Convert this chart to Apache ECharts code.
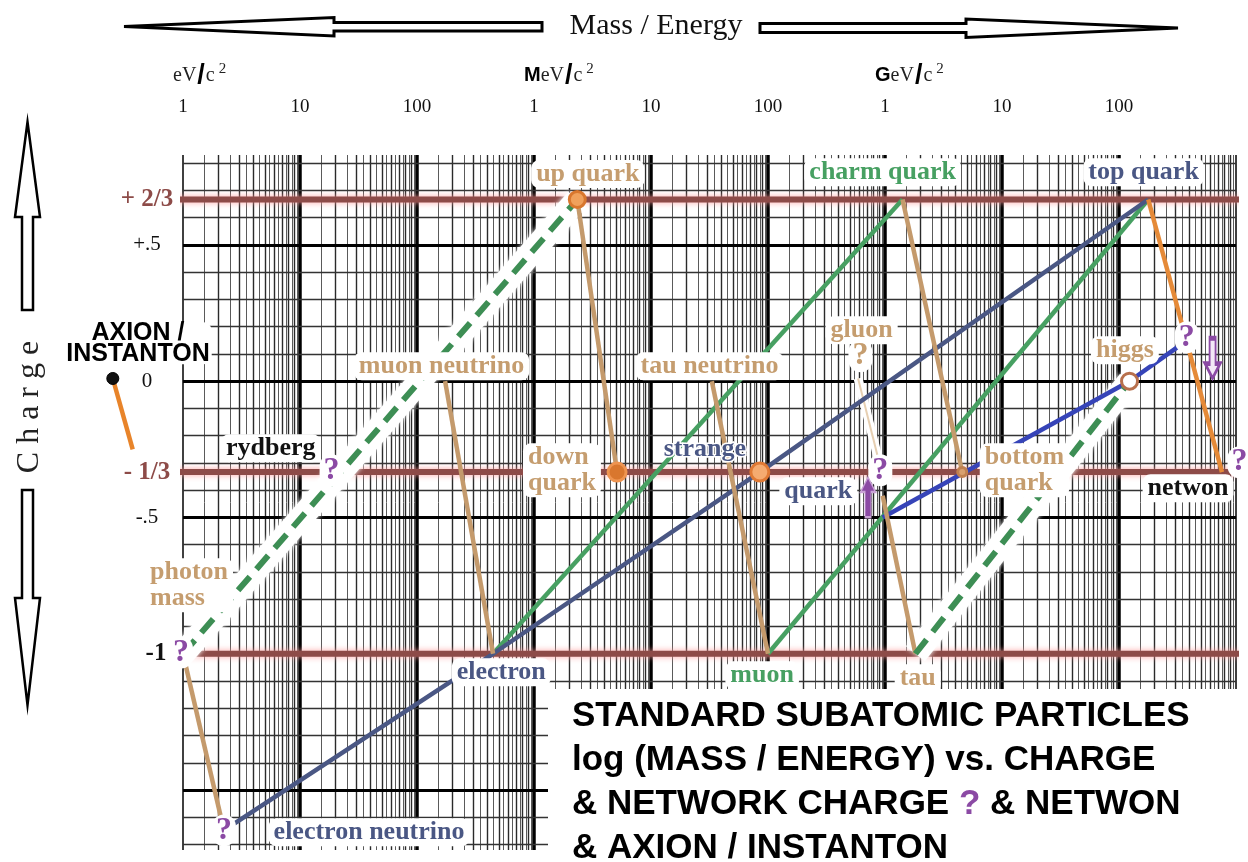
<!DOCTYPE html>
<html><head><meta charset="utf-8">
<script src="https://cdn.jsdelivr.net/npm/echarts@6/dist/echarts.min.js"></script>
<style>html,body{margin:0;padding:0;background:#fff}#c{width:1248px;height:862px}</style>
</head><body><div id="c"></div>
<script>
// x = decade index of mass/energy (0 = 1 eV/c², 3 = 1 MeV/c², 6 = 1 GeV/c² ...), y = charge
const massTickLabels = ['1','10','100','1','10','100','1','10','100',''];
const unitPrefixes = ['', 'M', 'G', ''];
const chargeTickValues = [2/3, 0.5, 0, -1/3, -0.5, -1];
const chargeTickLabels = ['+ 2/3', '+.5', '0', '- 1/3', '-.5', '-1'];
const chargeTickStyles = ['frac', 'plain', 'plain', 'frac', 'plain', 'one'];
const chargeLevels = [2/3, -1/3, -1];

// particle points [decade index, charge]
const ptPhoton = [0.00, -1];
const ptElectronNeutrino = [0.35, -1.648];
const ptElectron = [2.65, -1];
const ptMuonNeutrino = [2.24, 0];
const ptUpQuark = [3.37, 2/3];
const ptDownQuark = [3.71, -1/3];
const ptTauNeutrino = [4.52, 0];
const ptMuon = [5.00, -1];
const ptStrange = [4.93, -1/3];
const ptGluon = [5.77, 0.01];
const ptGluonMid = [5.94, -0.28];
const ptGluonLow = [5.98, -0.42];
const ptQuarkStart = [5.98, -0.50];
const ptCharm = [6.15, 2/3];
const ptTau = [6.26, -1];
const ptBottom = [6.66, -1/3];
const ptHiggs = [8.09, 0];
const ptTop = [8.25, 2/3];
const ptNetwon = [8.88, -1/3];
const ptNetworkCharge = [8.50, 0.125];
const ptAxion = [-0.60, 0.01];
const ptAxionEnd = [-0.43, -0.25];

const tan = '#c49a6c', tanText = '#c59d6f', green = '#47a062', slate = '#4a5784',
      blue = '#3644b8', purple = '#8b4aa4', orange = '#e58a38', brick = '#8d4b48';

const tanLines = [[ptPhoton, ptElectronNeutrino], [ptMuonNeutrino, ptElectron], [ptUpQuark, ptDownQuark],
                  [ptTauNeutrino, ptMuon], [ptCharm, ptBottom], [ptGluonLow, ptTau]];
const orangeLines = [[ptTop, ptNetwon]];
const greenLines = [[ptElectron, ptCharm], [ptMuon, ptTop]];
const greenDashedLines = [[ptPhoton, ptUpQuark], [ptTau, ptHiggs]];
const slateLine = [ptElectronNeutrino, ptElectron, ptStrange, ptTop];
const blueLines = [[ptQuarkStart, ptHiggs], [ptHiggs, ptNetworkCharge]];
const gluonThin = [ptGluon, ptGluonMid];

const labelItems = [
  ['up quark', 3.46, 0.76, tanText, 'center'],
  ['charm quark', 5.98, 0.767, green, 'center'],
  ['top quark', 8.21, 0.767, slate, 'center'],
  ['muon neutrino', 2.21, 0.055, tanText, 'center'],
  ['tau neutrino', 4.50, 0.055, tanText, 'center'],
  ['gluon', 5.80, 0.187, tanText, 'center'],
  ['higgs', 8.05, 0.114, tanText, 'center'],
  ['down\nquark', 2.906, -0.327, tanText, 'left'],
  ['quark', 5.43, -0.404, slate, 'center'],
  ['bottom\nquark', 6.81, -0.327, tanText, 'left'],
  ['netwon', 8.59, -0.393, '#111', 'center'],
  ['rydberg', 0.75, -0.246, '#111', 'center'],
  ['photon\nmass', -0.325, -0.749, tanText, 'left'],
  ['electron', 2.72, -1.068, slate, 'center'],
  ['electron neutrino', 1.59, -1.655, slate, 'center'],
  ['muon', 4.95, -1.079, green, 'center'],
  ['tau', 6.28, -1.09, tanText, 'center']
];
const plainLabelItems = [['strange', 4.46, -0.25, slate]];
const axionLabel = ['AXION /\nINSTANTON', -0.385, 0.139];
const questionMarks = [
  [-0.017, -0.995, purple], [1.27, -0.327, purple], [0.35, -1.648, purple],
  [5.79, 0.092, tanText], [5.96, -0.327, purple], [8.58, 0.161, purple], [9.03, -0.297, purple]
];
const circleItems = [
  [ptUpQuark, 16, '#f0a15c', '#d9772e'],
  [ptDownQuark, 18, '#d9772e', '#ee9450'],
  [ptStrange, 18, '#f5ab70', '#e07a35'],
  [ptHiggs, 16, '#ffffff', '#b8704c'],
  [ptBottom, 9, '#d8a070', '#c08050']
];
// [decade, charge, rotation, filled]
const arrowItems = [[5.855, -0.426, 0, true], [8.80, 0.084, 180, false]];

// log-paper grid
const decades = [0,1,2,3,4,5,6,7,8,9];
const minorSteps = [1.5,2,2.5,3,3.5,4,4.5,5,5.5,6,6.5,7,7.5,8,8.5,9,9.5];
const gridMarks = [];
decades.forEach(dec => {
  gridMarks.push({xAxis: dec, lineStyle: {color: '#000', width: (dec === 0 || dec === 9) ? 1.5 : 3.5, type: 'solid'}});
  if (dec < 9) minorSteps.forEach(k => {
    const whole = Number.isInteger(k);
    gridMarks.push({xAxis: dec + Math.log10(k), lineStyle: {color: whole ? '#2a2a2a' : '#5a5a5a', width: whole ? 1.4 : 1, type: 'solid'}});
  });
});
for (let i = -17; i <= 8; i++) {
  const major = i % 5 === 0;
  gridMarks.push({yAxis: i / 10, lineStyle: {color: major ? '#000' : '#333', width: major ? 3 : 1.4, type: 'solid'}});
}

function lineSeries(points, lineStyle, z, extra) {
  return Object.assign({type: 'line', data: points, symbol: 'none', lineStyle, z, silent: true, clip: false,
    animation: false, emphasis: {disabled: true}}, extra || {});
}
const invisibleItem = {color: 'rgba(0,0,0,0)', opacity: 1};

const series = [];
series.push({type: 'line', data: [[0, 0]], symbol: 'none', lineStyle: {opacity: 0}, z: 1, silent: true,
  markLine: {z: 1, symbol: ['none', 'none'], silent: true, animation: false, label: {show: false},
    emphasis: {disabled: true}, data: gridMarks}});
chargeLevels.forEach(c => series.push(lineSeries([[-0.05, c], [9.03, c]],
  {color: brick, width: 6, shadowColor: 'rgba(255,150,150,0.85)', shadowBlur: 6}, 2)));
greenDashedLines.forEach(p => series.push(lineSeries(p,
  {color: '#fff', width: 24, shadowColor: '#fff', shadowBlur: 5}, 3)));
series.push(lineSeries(gluonThin, {color: '#fff', width: 9}, 3));
series.push(lineSeries(gluonThin, {color: '#e6cfb2', width: 2}, 4));
greenLines.forEach(p => series.push(lineSeries(p, {color: green, width: 4.5}, 4)));
series.push(lineSeries(slateLine, {color: slate, width: 4.5}, 4));
blueLines.forEach(p => series.push(lineSeries(p, {color: blue, width: 4.5}, 4)));
tanLines.forEach(p => series.push(lineSeries(p, {color: tan, width: 4.5}, 5)));
orangeLines.forEach(p => series.push(lineSeries(p, {color: orange, width: 4.5}, 5)));
greenDashedLines.forEach(p => series.push(lineSeries(p, {color: '#3d8e54', width: 6, type: [18, 10]}, 6)));
// axion stub lives in a second grid continuing the same log scale to the left of 1 eV
series.push(lineSeries([ptAxion, ptAxionEnd], {color: '#e8842a', width: 4.5}, 6, {xAxisIndex: 2, yAxisIndex: 1}));

series.push({type: 'scatter', z: 8, silent: true, clip: false, animation: false,
  data: circleItems.map(([p, s, f, b]) => ({value: p, symbolSize: s,
    itemStyle: {color: f, borderColor: b, borderWidth: 3, opacity: 1}}))});
series.push({type: 'scatter', z: 8, silent: true, clip: false, animation: false, xAxisIndex: 2, yAxisIndex: 1,
  data: [{value: ptAxion, symbolSize: 12, itemStyle: {color: '#111', borderColor: '#000', borderWidth: 1, opacity: 1}}]});

series.push({type: 'scatter', z: 9, silent: true, clip: false, animation: false, symbolSize: 1,
  itemStyle: invisibleItem,
  label: {show: true, position: 'inside', formatter: '{b}', fontFamily: 'Liberation Serif', fontWeight: 'bold',
    fontSize: 26, textBorderColor: '#fff', textBorderWidth: 3},
  data: plainLabelItems.map(([t, d, c, col]) => ({name: t, value: [d, c], label: {color: col}}))});

series.push({type: 'scatter', z: 20, silent: true, clip: false, animation: false, symbolSize: 1,
  itemStyle: invisibleItem,
  label: {show: true, position: 'inside', formatter: '{b}', fontFamily: 'Liberation Serif', fontWeight: 'bold',
    fontSize: 26, lineHeight: 26, backgroundColor: '#fff', padding: [1, 5], borderRadius: 8},
  data: labelItems.map(([t, d, c, col, al]) => ({name: t, value: [d, c], label: {color: col, align: al}}))
    .concat([{name: axionLabel[0], value: [axionLabel[1], axionLabel[2]],
      label: {color: '#000', fontFamily: 'Liberation Sans', fontSize: 25, lineHeight: 21, padding: [0, 2]}}])});

series.push({type: 'scatter', z: 21, silent: true, clip: false, animation: false, symbolSize: 1,
  itemStyle: invisibleItem,
  label: {show: true, position: 'inside', formatter: '?', fontFamily: 'Liberation Serif', fontWeight: 'bold',
    fontSize: 32, lineHeight: 32, backgroundColor: '#fff', padding: [0, 4], borderRadius: 14},
  data: questionMarks.map(([d, c, col]) => ({value: [d, c], label: {color: col}}))});

series.push({type: 'scatter', z: 22, silent: true, clip: false, animation: false,
  symbol: 'path://M5,0 L10,11 L7,11 L7,30 L3,30 L3,11 L0,11 Z', symbolSize: [15, 40],
  data: arrowItems.map(([d, c, r, filled]) => ({value: [d, c], symbolRotate: r,
    itemStyle: filled ? {color: purple, borderColor: '#c9a3d6', borderWidth: 1.5, opacity: 1}
                      : {color: '#f3e8f6', borderColor: purple, borderWidth: 3, opacity: 1}}))});

const unitRich = {
  b: {fontFamily: 'Liberation Sans', fontWeight: 'bold', fontSize: 20, color: '#000'},
  s: {fontFamily: 'Liberation Serif', fontSize: 20, color: '#222'},
  sl: {fontFamily: 'Liberation Sans', fontWeight: 'bold', fontSize: 27, color: '#000', padding: [0, 1]},
  sup: {fontFamily: 'Liberation Serif', fontSize: 15, color: '#222', verticalAlign: 'top', padding: [0, 0, 10, 4]}
};
const hiddenAxis = {axisLine: {show: false}, axisTick: {show: false}, splitLine: {show: false}, axisLabel: {show: false}};

const option = {
  animation: false,
  backgroundColor: '#fff',
  grid: [
    {left: 183, right: 12, top: 155, bottom: 12, containLabel: false},
    {left: 0, width: 183, top: 155, bottom: 12, containLabel: false}
  ],
  xAxis: [{
    type: 'value', min: 0, max: 9, interval: 1, position: 'top',
    axisLine: {show: false}, axisTick: {show: false}, splitLine: {show: false},
    axisLabel: {margin: 38, showMinLabel: true, showMaxLabel: false, fontFamily: 'Liberation Serif', fontSize: 19,
      color: '#111', formatter: v => massTickLabels[Math.round(v)]}
  }, {
    type: 'value', min: 0, max: 9, interval: 3, position: 'top',
    axisLine: {show: false}, axisTick: {show: false}, splitLine: {show: false},
    axisLabel: {margin: 66, align: 'left', padding: [0, 0, 0, -10], showMinLabel: true, showMaxLabel: false,
      formatter: v => {
        const i = Math.round(v / 3);
        if (i > 2) return '';
        return (unitPrefixes[i] ? '{b|' + unitPrefixes[i] + '}' : '') + '{s|eV}{sl|/}{s|c}{sup|2}';
      }, rich: unitRich}
  }, Object.assign({type: 'value', gridIndex: 1, min: -183 / 117, max: 0}, hiddenAxis)],
  yAxis: [{
    type: 'value', min: -1.72, max: 0.83,
    axisLine: {show: false}, axisTick: {show: false}, splitLine: {show: false},
    axisLabel: {customValues: chargeTickValues, margin: 36, align: 'center',
      formatter: v => {
        const i = chargeTickValues.findIndex(t => Math.abs(t - v) < 1e-6);
        return i < 0 ? '' : '{' + chargeTickStyles[i] + '|' + chargeTickLabels[i] + '}';
      },
      rich: {
        frac: {fontFamily: 'Liberation Serif', fontWeight: 'bold', fontSize: 25, color: brick},
        plain: {fontFamily: 'Liberation Serif', fontSize: 21, color: '#111'},
        one: {fontFamily: 'Liberation Serif', fontWeight: 'bold', fontSize: 25, color: '#111', padding: [0, 0, 0, 18]}
      }}
  }, Object.assign({type: 'value', gridIndex: 1, min: -1.72, max: 0.83}, hiddenAxis)],
  graphic: [
    {type: 'polygon', z: 60, shape: {points: [[542,22.5],[334,22.5],[334,17.5],[124,26.5],[334,36],[334,31],[542,31]]},
      style: {fill: '#fff', stroke: '#000', lineWidth: 3}},
    {type: 'polygon', z: 60, shape: {points: [[760,23.5],[966,23.5],[966,19],[1178,28],[966,37.5],[966,32.5],[760,32.5]]},
      style: {fill: '#fff', stroke: '#000', lineWidth: 3}},
    {type: 'text', z: 60, x: 656, y: 26, style: {text: 'Mass / Energy', font: '30px "Liberation Serif"', fill: '#111',
      align: 'center', verticalAlign: 'middle', textAlign: 'center', textVerticalAlign: 'middle'}},
    {type: 'polygon', z: 60, shape: {points: [[27.5,122],[40,217],[33,217],[33,310],[22,310],[22,217],[15,217]]},
      style: {fill: '#fff', stroke: '#000', lineWidth: 2.5}},
    {type: 'polygon', z: 60, shape: {points: [[22,490],[33,490],[33,598],[40,598],[27.5,705],[15,598],[22,598]]},
      style: {fill: '#fff', stroke: '#000', lineWidth: 2.5}},
    {type: 'text', z: 60, x: 30, y: 407, rotation: Math.PI / 2, style: {text: 'C h a r g e', font: '32px "Liberation Serif"',
      fill: '#222', align: 'center', verticalAlign: 'middle', textAlign: 'center', textVerticalAlign: 'middle'}},
    {type: 'rect', z: 50, shape: {x: 548, y: 689, width: 700, height: 173}, style: {fill: '#fff'}},
    {type: 'text', z: 51, x: 572, y: 716, style: {text: 'STANDARD SUBATOMIC PARTICLES', font: 'bold 35px "Liberation Sans"',
      fill: '#000', verticalAlign: 'middle', textVerticalAlign: 'middle'}},
    {type: 'text', z: 51, x: 572, y: 760, style: {text: 'log (MASS / ENERGY) vs. CHARGE', font: 'bold 35px "Liberation Sans"',
      fill: '#000', verticalAlign: 'middle', textVerticalAlign: 'middle'}},
    {type: 'text', z: 51, x: 572, y: 804, style: {text: '{a|& NETWORK CHARGE }{q|?}{a| & NETWON}',
      rich: {a: {font: 'bold 35px "Liberation Sans"', fill: '#000'}, q: {font: 'bold 35px "Liberation Sans"', fill: purple}},
      verticalAlign: 'middle', textVerticalAlign: 'middle'}},
    {type: 'text', z: 51, x: 572, y: 848, style: {text: '& AXION / INSTANTON', font: 'bold 35px "Liberation Sans"',
      fill: '#000', verticalAlign: 'middle', textVerticalAlign: 'middle'}}
  ],
  series
};
const chart = echarts.init(document.getElementById('c'), null, {renderer: 'canvas'});
chart.setOption(option);
</script></body></html>
